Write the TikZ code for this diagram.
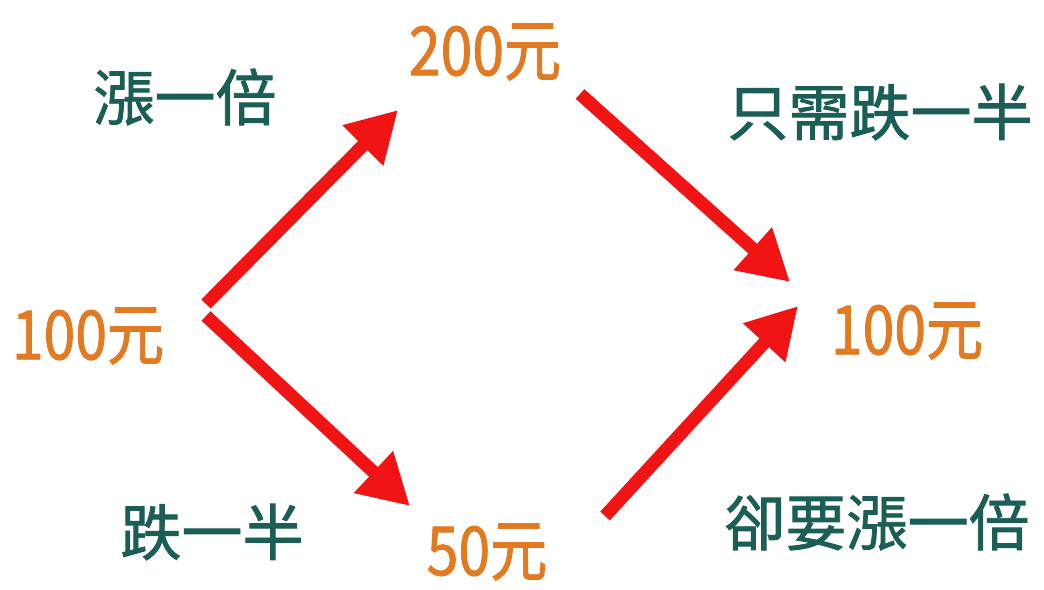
\documentclass[tikz,border=0pt]{standalone}
\usepackage{fontspec}
\setmainfont{Noto Sans CJK TC}
\newfontfamily\numfont[FakeStretch=0.84,FakeBold=1.2]{Noto Sans CJK TC}
\newfontfamily\labfont[FakeBold=1.4]{Noto Sans CJK TC}
\usetikzlibrary{arrows.meta}
\definecolor{numorange}{HTML}{E27A22}
\definecolor{labgreen}{HTML}{1A5E55}
\definecolor{arrred}{HTML}{F01414}
\tikzset{
  num/.style={text=numorange, font=\numfont\fontsize{68}{70}\selectfont, inner sep=0pt},
  lab/.style={text=labgreen, font=\labfont\fontsize{61}{63}\selectfont, inner sep=0pt},
  bigarrow/.style={draw=arrred, line width=13pt, -{Triangle[length=50pt,width=54pt]}}
}
\begin{document}
\begin{tikzpicture}[x=1pt,y=-1pt]
\useasboundingbox (0,0) rectangle (1044,589);
\node[num] (left) at (88,336) {100元};
\node[num] (top) at (485,52) {200元};
\node[num] (bottom) at (487,552) {50元};
\node[num] (right) at (907,331) {100元};
\node[lab] (up1) at (185,97) {漲一倍};
\node[lab] (down1) at (212,532) {跌一半};
\node[lab] (down2) at (880,112) {只需跌一半};
\node[lab] (up2) at (877,522) {卻要漲一倍};
\coordinate (a1s) at (206,304);
\coordinate (a1e) at (398,110);
\coordinate (a2s) at (206,316);
\coordinate (a2e) at (410,506);
\coordinate (a3s) at (580,94);
\coordinate (a3e) at (790,282);
\coordinate (a4s) at (605,516);
\coordinate (a4e) at (798,306);
\draw[bigarrow] (a1s) -- (a1e);
\draw[bigarrow] (a2s) -- (a2e);
\draw[bigarrow] (a3s) -- (a3e);
\draw[bigarrow] (a4s) -- (a4e);
\end{tikzpicture}
\end{document}
